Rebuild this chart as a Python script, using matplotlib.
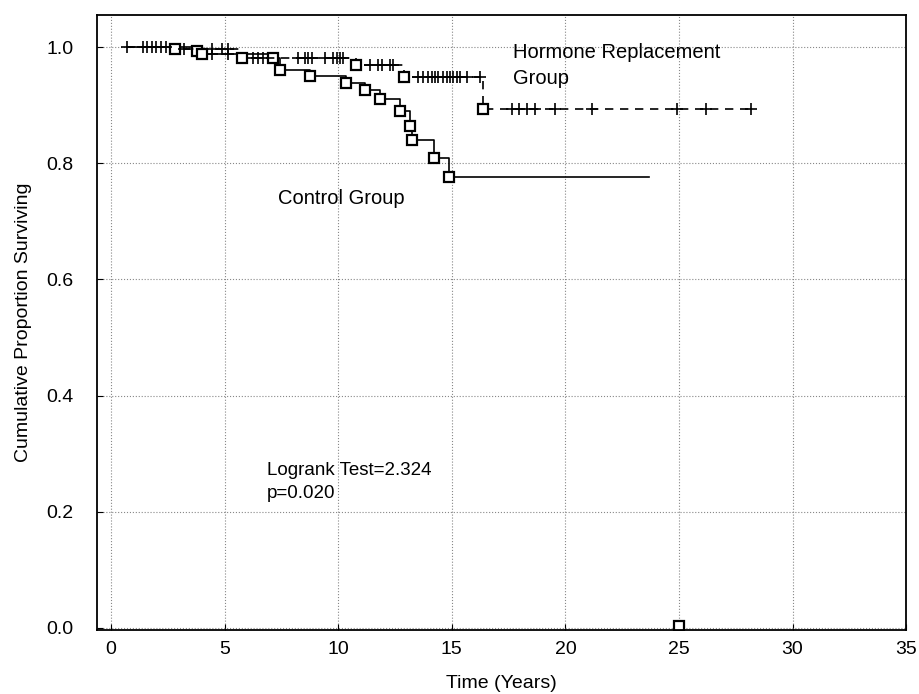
import matplotlib
matplotlib.use("Agg")
import matplotlib.pyplot as plt
import numpy as np

plt.rcParams['font.family'] = ['Liberation Sans', 'DejaVu Sans']

# ---------------- data ----------------
# Control group (solid line): start, event times and survival after event, end
control_start = 0.7
control_event_t = [3.8, 4.0, 7.15, 7.44, 8.77, 10.35, 11.2, 11.85, 12.7, 13.14, 13.25, 14.2, 14.86]
control_event_s = [0.994, 0.989, 0.982, 0.960, 0.950, 0.938, 0.926, 0.911, 0.890, 0.864, 0.840, 0.809, 0.776]
control_end = 23.7
control_cens_t = [1.6, 2.2, 4.45, 5.15]

# Hormone replacement group (dashed line)
hrt_start = 0.7
hrt_event_t = [2.82, 5.75, 10.8, 12.9, 16.37]
hrt_event_s = [0.997, 0.982, 0.970, 0.949, 0.893]
hrt_end = 28.15
hrt_cens_t = [0.7, 1.4, 1.8, 2.0, 2.4, 3.2, 4.45, 4.9, 5.15, 6.26, 6.48, 6.7,
              8.24, 8.55, 8.68, 8.85, 9.43, 9.78, 9.96, 10.1, 10.2,
              11.4, 11.76, 11.94, 12.3, 12.4,
              13.5, 13.75, 13.97, 14.14, 14.27, 14.4, 14.6, 14.8, 14.93, 15.07, 15.24, 15.37, 15.68, 16.25,
              17.65, 17.94, 18.3, 18.67, 19.56, 21.17, 24.9, 26.2, 28.15]

# isolated point on the axis
extra_t = [25.0]
extra_s = [0.004]

x_ticks = [0, 5, 10, 15, 20, 25, 30, 35]
y_ticks = [0.0, 0.2, 0.4, 0.6, 0.8, 1.0]


def step_path(start, ev_t, ev_s, end):
    t = [start] + list(ev_t) + [end]
    s = [1.0] + list(ev_s) + [ev_s[-1]]
    return np.array(t), np.array(s)


def surv_at(tq, start, ev_t, ev_s):
    out = []
    for q in tq:
        s = 1.0
        for et, es in zip(ev_t, ev_s):
            if et <= q:
                s = es
        out.append(s)
    return np.array(out)


fig = plt.figure(figsize=(9.19, 6.94), dpi=100)
ax = fig.add_axes([0.1055, 0.092, 0.8805, 0.886])

# control
ct, cs = step_path(control_start, control_event_t, control_event_s, control_end)
ax.step(ct, cs, where='post', color='black', lw=1.2)
ax.plot(control_event_t, control_event_s, 's', ms=7.5, mfc='white', mec='black', mew=1.6)
ax.plot(control_cens_t, surv_at(control_cens_t, control_start, control_event_t, control_event_s),
        '+', ms=9, color='black', mew=1.2)

# hormone
ht, hs = step_path(hrt_start, hrt_event_t, hrt_event_s, hrt_end)
ax.step(ht, hs, where='post', color='black', lw=1.2, linestyle=(0, (5, 4)))
ax.plot(hrt_event_t, hrt_event_s, 's', ms=7.5, mfc='white', mec='black', mew=1.6)
ax.plot(hrt_cens_t, surv_at(hrt_cens_t, hrt_start, hrt_event_t, hrt_event_s),
        '+', ms=9, color='black', mew=1.2)

ax.plot(extra_t, extra_s, 's', ms=7.5, mfc='white', mec='black', mew=1.6, clip_on=True)

ax.set_xlim(-0.62, 35.0)
ax.set_ylim(-0.004, 1.055)
ax.set_xticks(x_ticks)
ax.set_xticklabels([str(v) for v in x_ticks])
ax.set_yticks(y_ticks)
ax.set_yticklabels([f"{v:.1f}" for v in y_ticks])
ax.tick_params(axis='both', direction='in', length=4, width=0.8, labelsize=14)
ax.tick_params(axis='x', pad=8)
ax.tick_params(axis='y', pad=17)
ax.grid(True, linestyle=':', color='#888888', lw=0.8)
for sp in ax.spines.values():
    sp.set_linewidth(1.3)

ax.set_xlabel('Time (Years)', fontsize=14, labelpad=12)
ax.set_ylabel('Cumulative Proportion Surviving', fontsize=14, labelpad=10)

ax.text(17.7, 0.991, 'Hormone Replacement', fontsize=14.5, va='center', ha='left')
ax.text(17.7, 0.946, 'Group', fontsize=14.5, va='center', ha='left')
ax.text(7.35, 0.74, 'Control Group', fontsize=14.5, va='center', ha='left')
ax.text(6.87, 0.271, 'Logrank Test=2.324', fontsize=13.5, va='center', ha='left')
ax.text(6.87, 0.231, 'p=0.020', fontsize=13.5, va='center', ha='left')

fig.savefig('out.png', dpi=100)
